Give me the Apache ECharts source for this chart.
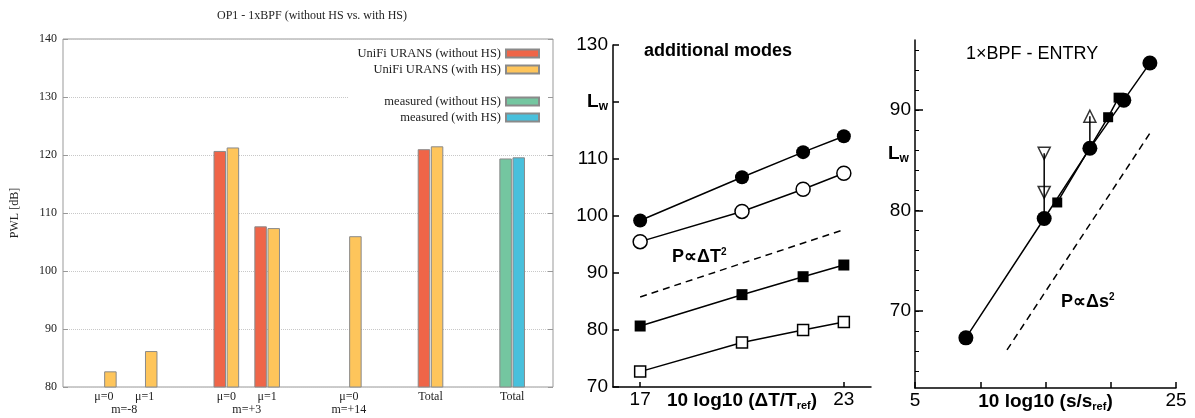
<!DOCTYPE html>
<html><head><meta charset="utf-8">
<script src="https://cdn.jsdelivr.net/npm/echarts@6/dist/echarts.min.js"></script>
<style>html,body{margin:0;padding:0;background:#fff}#c{width:1195px;height:418px}</style>
</head><body><div id="c"></div>
<script>
// ---------- Panel 1: OP1 - 1xBPF bar chart ----------
const barLabels = ['μ=0', 'μ=1', 'μ=0', 'μ=1', 'μ=0', 'Total', 'Total'];
const modeGroups = ['m=-8', 'm=-8', 'm=+3', 'm=+3', 'm=+14', '', ''];
const unifiWithoutHS = [null, null, 120.7, 107.7, null, 121.0, null];
const unifiWithHS = [82.7, 86.2, 121.3, 107.4, 106.0, 121.5, null];
const measuredWithoutHS = [null, null, null, null, null, null, 119.4];
const measuredWithHS = [null, null, null, null, null, null, 119.6];
const pwlTicks = [80, 90, 100, 110, 120, 130, 140];

// ---------- Panel 2: additional modes ----------
const dTlog = [17, 20, 21.8, 23];
const modesFilledCircle = [99.2, 106.8, 111.2, 114.0];
const modesOpenCircle = [95.5, 100.8, 104.7, 107.5];
const modesFilledSquare = [80.7, 86.2, 89.35, 91.4];
const modesOpenSquare = [72.7, 77.8, 80.0, 81.4];
const dT2RefX = [17, 23];
const dT2RefY = [85.8, 97.6];
const modesXTickLabels = [17, 23];

// ---------- Panel 3: 1xBPF - ENTRY ----------
const entryCircleX = [8.9, 14.9, 18.4, 21.0, 23.0];
const entryCircleY = [67.3, 79.2, 86.2, 91.0, 94.7];
const entrySquareX = [15.9, 19.8, 20.6];
const entrySquareY = [80.8, 89.3, 91.25];
const entryDownTriX = [14.9, 14.9];
const entryDownTriY = [85.7, 81.8];
const entryUpTriX = [18.4];
const entryUpTriY = [89.4];
const ds2RefX = [12.05, 23.1];
const ds2RefY = [66.1, 87.9];
const entryXTickLabels = [5, 25];
const entryYTickLabels = [70, 80, 90];

// ---------- layout helpers (positions on the category axis) ----------
const slotIndex = [1, 2, 4, 5, 7, 9, 11];
const nSlots = 13;
function toSlots(arr) {
  const out = new Array(nSlots).fill(null);
  arr.forEach((v, i) => { out[slotIndex[i]] = v; });
  return out;
}
const cats = toSlots(barLabels).map(v => v == null ? '' : v);
const modePos = [], modeNames = [];
modeGroups.forEach((m, i) => {
  if (!m) return;
  const k = modeNames.indexOf(m);
  if (k < 0) { modeNames.push(m); modePos.push([slotIndex[i]]); }
  else modePos[k].push(slotIndex[i]);
});
const modeCenters = modePos.map(a => a.reduce((s, v) => s + v, 0) / a.length);
const zip = (xs, ys) => xs.map((x, i) => [x, ys[i]]);
const minorTicks = [];
for (let v = 64; v <= 96; v += 2) minorTicks.push(v);

const serif = 'Liberation Serif';
const sans = 'Liberation Sans';
const colors = { red: '#EF6548', orange: '#FEC55B', green: '#74C6A0', blue: '#48C0DC' };
const barBorder = { borderColor: '#8a8a8a', borderWidth: 1 };
const blk = '#000';

const chart = echarts.init(document.getElementById('c'), null, { renderer: 'canvas' });
const option = {
  animation: false,
  backgroundColor: '#fff',
  title: [
    { text: 'OP1 - 1xBPF (without HS vs. with HS)', left: 307, top: 5, textAlign: 'center',
      textStyle: { fontFamily: serif, fontSize: 12, fontWeight: 'normal', color: '#222' } },
    { text: 'additional modes', left: 639, top: 37,
      textStyle: { fontFamily: sans, fontSize: 18, fontWeight: 'bold', color: blk } },
    { text: '1×BPF - ENTRY', left: 961, top: 40,
      textStyle: { fontFamily: sans, fontSize: 18, fontWeight: 'normal', color: blk } }
  ],
  legend: [
    { data: ['UniFi URANS (without HS)', 'UniFi URANS (with HS)'], orient: 'vertical', align: 'right',
      right: 647, top: 42.5, padding: [4, 8, 4, 8], itemWidth: 33, itemHeight: 8, itemGap: 2, icon: 'rect',
      backgroundColor: '#fff', textStyle: { fontFamily: serif, fontSize: 12.5, color: '#222', lineHeight: 14 } },
    { data: ['measured (without HS)', 'measured (with HS)'], orient: 'vertical', align: 'right',
      right: 647, top: 90.5, padding: [4, 8, 4, 36], itemWidth: 33, itemHeight: 8, itemGap: 2, icon: 'rect',
      backgroundColor: '#fff', textStyle: { fontFamily: serif, fontSize: 12.5, color: '#222', lineHeight: 14 } }
  ],
  grid: [
    { left: 63, top: 39, width: 490, height: 348, show: true, borderColor: '#999', borderWidth: 1,
      backgroundColor: 'transparent', outerBoundsMode: 'none', containLabel: false },
    { left: 613, top: 45, width: 258, height: 342, outerBoundsMode: 'none', containLabel: false },
    { left: 915, top: 40, width: 261, height: 348, outerBoundsMode: 'none', containLabel: false }
  ],
  xAxis: [
    { gridIndex: 0, type: 'category', data: cats, boundaryGap: false, position: 'bottom',
      axisLine: { show: false }, axisTick: { show: false }, splitLine: { show: false },
      axisLabel: { interval: 0, margin: 4, fontFamily: serif, fontSize: 12, color: '#222' } },
    { gridIndex: 0, type: 'value', min: 0, max: nSlots - 1, position: 'bottom',
      axisLine: { show: false }, axisTick: { show: false }, splitLine: { show: false },
      axisLabel: { customValues: modeCenters, formatter: v => { const i = modeCenters.indexOf(v); return i >= 0 ? modeNames[i] : ''; },
        margin: 17, fontFamily: serif, fontSize: 12, color: '#222' } },
    { gridIndex: 0, type: 'category', data: cats, boundaryGap: false, show: false, position: 'bottom' },
    { gridIndex: 1, type: 'value', min: 16.2, max: 23.8, position: 'bottom',
      name: '10 log10 (ΔT/T{sub|ref})', nameLocation: 'middle', nameGap: 3, nameMoveOverlap: false,
      nameTextStyle: { fontFamily: sans, fontSize: 19, fontWeight: 'bold', color: blk, verticalAlign: 'top',
        rich: { sub: { fontFamily: sans, fontSize: 11, fontWeight: 'bold', color: blk, padding: [10, 0, 0, 0] } } },
      axisLine: { lineStyle: { color: blk, width: 1.5 } },
      axisTick: { customValues: modesXTickLabels, inside: true, length: 5, lineStyle: { color: blk, width: 1.5 } },
      axisLabel: { customValues: modesXTickLabels, margin: 3, fontFamily: sans, fontSize: 19, color: blk },
      splitLine: { show: false } },
    { gridIndex: 2, type: 'value', min: 5, max: 25, interval: 5, position: 'bottom',
      name: '10 log10 (s/s{sub|ref})', nameLocation: 'middle', nameGap: 3, nameMoveOverlap: false,
      nameTextStyle: { fontFamily: sans, fontSize: 19, fontWeight: 'bold', color: blk, verticalAlign: 'top',
        rich: { sub: { fontFamily: sans, fontSize: 11, fontWeight: 'bold', color: blk, padding: [10, 0, 0, 0] } } },
      axisLine: { lineStyle: { color: blk, width: 1.5 } },
      axisTick: { inside: true, length: 6, lineStyle: { color: blk, width: 1.5 } },
      axisLabel: { customValues: entryXTickLabels, margin: 3, fontFamily: sans, fontSize: 19, color: blk },
      splitLine: { show: false } }
  ],
  yAxis: [
    { gridIndex: 0, type: 'value', min: pwlTicks[0], max: pwlTicks[pwlTicks.length - 1], interval: 10,
      name: 'PWL [dB]', nameLocation: 'middle', nameGap: 42, nameMoveOverlap: false,
      nameTextStyle: { fontFamily: serif, fontSize: 12, color: '#222' },
      axisLine: { show: false }, axisTick: { show: true, inside: true, length: 5, lineStyle: { color: '#999' } },
      axisLabel: { margin: 6, fontFamily: serif, fontSize: 12, color: '#222' },
      splitLine: { show: true, lineStyle: { type: 'dotted', color: '#c8c8c8', width: 1 } } },
    { gridIndex: 0, type: 'value', min: pwlTicks[0], max: pwlTicks[pwlTicks.length - 1], interval: 10, position: 'right',
      axisLine: { show: false }, axisTick: { show: true, inside: true, length: 5, lineStyle: { color: '#999' } },
      axisLabel: { show: false }, splitLine: { show: false } },
    { gridIndex: 1, type: 'value', min: 70, max: 130, interval: 10,
      axisLine: { show: true, lineStyle: { color: blk, width: 1.5 } },
      axisTick: { show: true, inside: true, length: 6, lineStyle: { color: blk, width: 1.5 } },
      axisLabel: { margin: 5, fontFamily: sans, fontSize: 19, color: blk,
        formatter: v => v === 120 ? '{L|L}{w|w}' : String(v),
        rich: { L: { fontFamily: sans, fontSize: 19, fontWeight: 'bold', color: blk },
                w: { fontFamily: sans, fontSize: 12, fontWeight: 'bold', color: blk, padding: [10, 0, 0, 0] } } },
      splitLine: { show: false } },
    { gridIndex: 2, type: 'value', min: 62.3, max: 97,
      axisLine: { show: true, lineStyle: { color: blk, width: 1.5 } },
      axisTick: { show: true, customValues: minorTicks, inside: true, length: 4, lineStyle: { color: blk, width: 1 } },
      axisLabel: { customValues: entryYTickLabels, margin: 4, fontFamily: sans, fontSize: 19, color: blk },
      splitLine: { show: false } },
    { gridIndex: 2, type: 'value', min: 62.3, max: 97, position: 'left', offset: 0,
      axisLine: { show: false },
      axisTick: { show: true, customValues: entryYTickLabels, inside: true, length: 8, lineStyle: { color: blk, width: 1.5 } },
      axisLabel: { show: false }, splitLine: { show: false } }
  ],
  graphic: [
    { type: 'text', left: 672, top: 247, style: { text: '{a|P∝ΔT}{s|2}', rich: {
        a: { fontFamily: sans, fontSize: 18, fontWeight: 'bold', fill: blk },
        s: { fontFamily: sans, fontSize: 10, fontWeight: 'bold', fill: blk, padding: [0, 0, 10, 0] } } } },
    { type: 'text', left: 1061, top: 292, style: { text: '{a|P∝Δs}{s|2}', rich: {
        a: { fontFamily: sans, fontSize: 18, fontWeight: 'bold', fill: blk },
        s: { fontFamily: sans, fontSize: 10, fontWeight: 'bold', fill: blk, padding: [0, 0, 10, 0] } } } },
    { type: 'text', left: 888, top: 144, style: { text: '{L|L}{w|w}', rich: {
        L: { fontFamily: sans, fontSize: 19, fontWeight: 'bold', fill: blk },
        w: { fontFamily: sans, fontSize: 12, fontWeight: 'bold', fill: blk, padding: [10, 0, 0, 0] } } } }
  ],
  series: [
    { name: 'UniFi URANS (without HS)', type: 'bar', xAxisIndex: 0, yAxisIndex: 0, data: toSlots(unifiWithoutHS),
      barWidth: 12.5, barGap: '5%', itemStyle: Object.assign({ color: colors.red }, barBorder) },
    { name: 'UniFi URANS (with HS)', type: 'bar', xAxisIndex: 0, yAxisIndex: 0, data: toSlots(unifiWithHS),
      barWidth: 12.5, barGap: '5%', itemStyle: Object.assign({ color: colors.orange }, barBorder) },
    { name: 'measured (without HS)', type: 'bar', xAxisIndex: 2, yAxisIndex: 0, data: toSlots(measuredWithoutHS),
      barWidth: 12.5, barGap: '5%', itemStyle: Object.assign({ color: colors.green }, barBorder) },
    { name: 'measured (with HS)', type: 'bar', xAxisIndex: 2, yAxisIndex: 0, data: toSlots(measuredWithHS),
      barWidth: 12.5, barGap: '5%', itemStyle: Object.assign({ color: colors.blue }, barBorder) },

    { type: 'line', xAxisIndex: 3, yAxisIndex: 2, data: zip(dT2RefX, dT2RefY), symbol: 'none',
      lineStyle: { color: blk, width: 1.5, type: [7, 5] } },
    { type: 'line', xAxisIndex: 3, yAxisIndex: 2, data: zip(dTlog, modesFilledCircle), symbol: 'circle', symbolSize: 14,
      itemStyle: { color: blk }, lineStyle: { color: blk, width: 1.5 } },
    { type: 'line', xAxisIndex: 3, yAxisIndex: 2, data: zip(dTlog, modesOpenCircle), symbol: 'circle', symbolSize: 14,
      itemStyle: { color: '#fff', borderColor: blk, borderWidth: 1.5 }, lineStyle: { color: blk, width: 1.5 } },
    { type: 'line', xAxisIndex: 3, yAxisIndex: 2, data: zip(dTlog, modesFilledSquare), symbol: 'rect', symbolSize: 11,
      itemStyle: { color: blk }, lineStyle: { color: blk, width: 1.5 } },
    { type: 'line', xAxisIndex: 3, yAxisIndex: 2, data: zip(dTlog, modesOpenSquare), symbol: 'rect', symbolSize: 11,
      itemStyle: { color: '#fff', borderColor: blk, borderWidth: 1.5 }, lineStyle: { color: blk, width: 1.5 } },

    { type: 'line', xAxisIndex: 4, yAxisIndex: 3, data: zip(ds2RefX, ds2RefY), symbol: 'none',
      lineStyle: { color: blk, width: 1.5, type: [7, 5] } },
    { type: 'line', xAxisIndex: 4, yAxisIndex: 3, symbol: 'none', lineStyle: { color: blk, width: 1.5 },
      data: [[entryDownTriX[0], Math.max(...entryDownTriY)], [entryDownTriX[0], entryCircleY[entryCircleX.indexOf(entryDownTriX[0])]]] },
    { type: 'line', xAxisIndex: 4, yAxisIndex: 3, symbol: 'none', lineStyle: { color: blk, width: 1.5 },
      data: [[entryUpTriX[0], entryUpTriY[0]], [entryUpTriX[0], entryCircleY[entryCircleX.indexOf(entryUpTriX[0])]]] },
    { type: 'line', xAxisIndex: 4, yAxisIndex: 3, data: zip(entrySquareX, entrySquareY), symbol: 'rect', symbolSize: 10,
      itemStyle: { color: blk }, lineStyle: { color: blk, width: 1.5 } },
    { type: 'line', xAxisIndex: 4, yAxisIndex: 3, data: zip(entryCircleX, entryCircleY), symbol: 'circle', symbolSize: 15,
      itemStyle: { color: blk }, lineStyle: { color: blk, width: 1.5 } },
    { type: 'scatter', xAxisIndex: 4, yAxisIndex: 3, data: zip(entryDownTriX, entryDownTriY), symbol: 'triangle', symbolRotate: 180, symbolSize: 12,
      itemStyle: { color: '#fff', borderColor: blk, borderWidth: 1.5 } },
    { type: 'scatter', xAxisIndex: 4, yAxisIndex: 3, data: zip(entryUpTriX, entryUpTriY), symbol: 'triangle', symbolSize: 12,
      itemStyle: { color: '#fff', borderColor: blk, borderWidth: 1.5 } }
  ]
};
chart.setOption(option);
</script></body></html>
